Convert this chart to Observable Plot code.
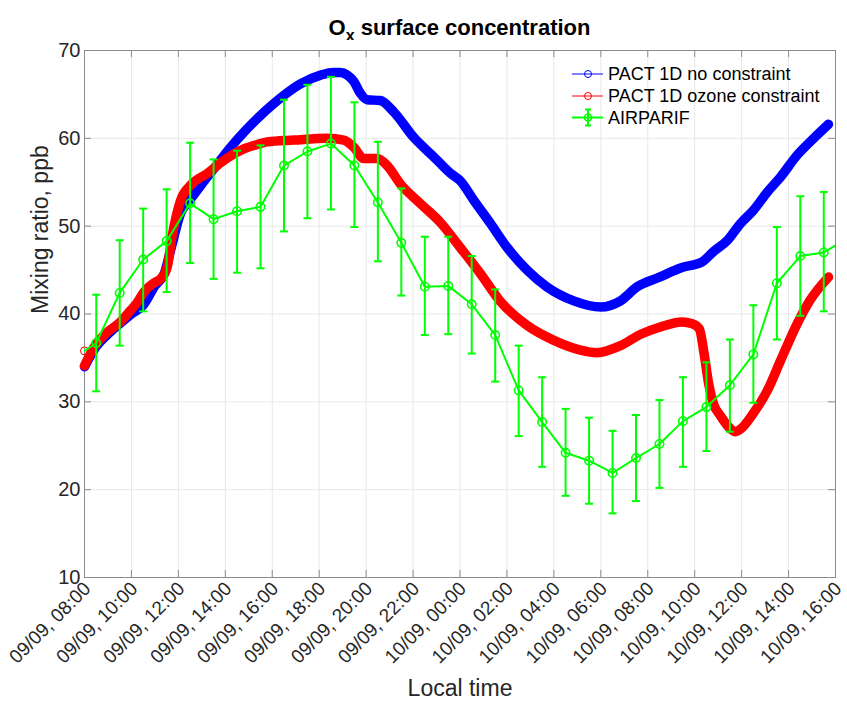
<!DOCTYPE html>
<html><head><meta charset="utf-8">
<script src="https://cdn.jsdelivr.net/npm/d3@7"></script>
<script src="https://cdn.jsdelivr.net/npm/@observablehq/plot@0.6"></script>
<style>
body{margin:0;background:#fff;font-family:"Liberation Sans",Arial,Helvetica,sans-serif;}
#wrap{position:relative;width:847px;height:701px;overflow:hidden;}
#title{position:absolute;left:84px;top:17px;width:751px;text-align:center;font-size:22px;line-height:22px;font-weight:bold;color:#000;}
#title sub{font-size:16px;vertical-align:-6px;line-height:0;}
#chart{position:absolute;left:0;top:40px;}
#legend{position:absolute;left:549px;top:60px;}
</style></head><body>
<div id="wrap">
  <div id="title">O<sub>x</sub> surface concentration</div>
  <div id="chart"></div>
  <svg id="legend" width="286" height="72" font-family="Liberation Sans, Arial, sans-serif" font-size="18"></svg>
</div>
<script>
// ---- data (hours after 09/09 08:00 local time) ----
const tickHours = [0,2,4,6,8,10,12,14,16,18,20,22,24,26,28,30,32];
const tickLabels = ["09/09, 08:00","09/09, 10:00","09/09, 12:00","09/09, 14:00","09/09, 16:00","09/09, 18:00","09/09, 20:00","09/09, 22:00","10/09, 00:00","10/09, 02:00","10/09, 04:00","10/09, 06:00","10/09, 08:00","10/09, 10:00","10/09, 12:00","10/09, 14:00","10/09, 16:00"];
const yTicks = [10,20,30,40,50,60,70];

const blueTime  = [0,0.5,1,1.5,2,2.5,3,3.4,3.7,4.1,4.5,5.0,5.5,6.2,6.9,7.5,8.0,8.5,9.2,10.06,10.6,10.9,11.2,11.47,11.76,12.04,12.6,13.18,14.03,14.88,15.6,16.0,16.6,17.3,18.0,18.86,19.7,20.85,22.0,22.84,23.55,24.5,25.46,26.3,26.8,27.4,27.95,28.5,29.1,29.66,30.37,31.07,31.7];
const blueValue = [34.0,36.3,37.7,38.9,40.0,41.0,43.2,44.6,47.6,51.5,53.0,54.8,56.5,58.9,61.0,62.6,63.8,64.9,66.2,67.2,67.5,67.5,67.2,66.5,65.1,64.4,64.3,63.0,60.1,57.9,56.0,55.2,52.9,50.3,47.6,45.0,43.1,41.5,40.8,41.5,43.1,44.2,45.3,45.9,47.1,48.4,50.3,51.8,53.9,55.6,58.1,60.0,61.6];

const redTime  = [0,0.4,0.96,1.53,1.96,2.25,2.53,3.0,3.24,3.52,3.73,4.09,4.5,5.23,5.94,6.79,7.5,7.78,8.92,10.34,11.05,11.47,11.9,12.47,12.9,13.46,14.3,15.17,16.0,16.87,17.7,18.86,20.0,21.13,21.84,22.84,23.7,24.5,25.46,25.9,26.2,26.4,26.6,26.8,27.1,27.5,27.74,28.0,28.5,29.1,29.66,30.37,30.9,31.7];
const redValue = [34.1,36.2,37.9,39.1,40.4,41.3,42.5,43.6,44.0,45.3,48.8,52.9,54.6,56.0,57.5,58.8,59.4,59.6,59.8,60.0,59.8,59.0,57.7,57.7,56.9,54.8,52.6,50.4,47.6,44.6,41.5,38.7,37.0,35.9,35.6,36.4,37.7,38.5,39.1,38.9,38.3,35.5,32.0,29.8,28.4,27.0,26.6,27.0,28.7,31.3,34.7,38.9,41.5,44.2];

const redStartTime = 0;
const redStartValue = 35.8;

const obsTime  = [-0.5,0.5,1.5,2.5,3.5,4.5,5.5,6.5,7.5,8.5,9.5,10.5,11.5,12.5,13.5,14.5,15.5,16.5,17.5,18.5,19.5,20.5,21.5,22.5,23.5,24.5,25.5,26.5,27.5,28.5,29.5,30.5,31.5,32.5];
const obsValue = [34.9,36.7,42.4,46.2,48.3,52.6,50.8,51.7,52.2,56.9,58.5,59.4,56.9,52.7,48.1,43.1,43.2,41.1,37.6,31.3,27.7,24.2,23.3,21.9,23.6,25.2,27.8,29.4,31.9,35.4,43.5,46.6,47.0,48.6];
const obsHigh  = [40.4,42.2,48.4,52.0,54.2,59.5,57.6,58.6,59.2,64.4,66.1,67.0,64.1,59.6,54.3,48.8,48.8,46.6,42.8,36.4,32.8,29.2,28.2,26.7,28.5,30.2,32.8,34.5,37.1,41.0,49.9,53.4,53.9,55.4];
const obsLow   = [29.4,31.2,36.4,40.3,42.5,45.8,44.0,44.7,45.2,49.4,50.9,51.9,49.9,46.0,42.1,37.6,37.7,35.5,32.3,26.1,22.6,19.3,18.4,17.3,18.7,20.2,22.6,24.4,26.6,29.9,37.1,39.8,40.3,41.8];

const seriesNames = ["PACT 1D no constraint","PACT 1D ozone constraint","AIRPARIF"];
const seriesColors = ["#0000ff","#ff0000","#00ff00"];

// ---- build tables ----
const blue = blueTime.map((t,i)=>({t, v: blueValue[i]}));
const red = redTime.map((t,i)=>({t, v: redValue[i]}));
const obs = obsTime.map((t,i)=>({t, v: obsValue[i], hi: obsHigh[i], lo: obsLow[i]}));

const capSymbol = {draw(ctx, size){ const w = Math.sqrt(size/Math.PI); ctx.moveTo(-w,0); ctx.lineTo(w,0); }};
const axisColor = "#8c8c8c";
const gridColor = "#e8e8e8";

const chart = Plot.plot({
  width: 847, height: 661,
  marginLeft: 84, marginRight: 12, marginTop: 10, marginBottom: 124,
  style: {fontFamily: "Liberation Sans, Arial, Helvetica, sans-serif", fontSize: "20px", color: "#262626", background: "white", overflow: "visible"},
  x: {domain: [0, 32]},
  y: {domain: [10, 70]},
  marks: [
    Plot.gridX(tickHours, {stroke: gridColor, strokeOpacity: 1}),
    Plot.gridY(yTicks, {stroke: gridColor, strokeOpacity: 1}),
    Plot.ruleY(yTicks, {x1: 0, x2: 0.3, stroke: axisColor}),
    Plot.ruleY(yTicks, {x1: 31.7, x2: 32, stroke: axisColor}),
    Plot.ruleX(tickHours, {y1: 10, y2: 10.8, stroke: axisColor}),
    Plot.ruleX(tickHours, {y1: 69.2, y2: 70, stroke: axisColor}),
    Plot.frame({stroke: axisColor}),
    Plot.line(blue, {x: "t", y: "v", stroke: seriesColors[0], strokeWidth: 9.5, strokeLinecap: "round", strokeLinejoin: "round", curve: "monotone-x"}),
    Plot.line(red, {x: "t", y: "v", stroke: seriesColors[1], strokeWidth: 9.5, strokeLinecap: "round", strokeLinejoin: "round", curve: "monotone-x"}),
    Plot.dot([{t: redStartTime, v: redStartValue}], {x: "t", y: "v", r: 4, stroke: seriesColors[1], strokeWidth: 1, fill: "none"}),
    Plot.ruleX(obs, {x: "t", y1: "lo", y2: "hi", stroke: seriesColors[2], strokeWidth: 2, clip: true}),
    Plot.dot(obs, {x: "t", y: "hi", symbol: capSymbol, r: 4, stroke: seriesColors[2], strokeWidth: 2, clip: true}),
    Plot.dot(obs, {x: "t", y: "lo", symbol: capSymbol, r: 4, stroke: seriesColors[2], strokeWidth: 2, clip: true}),
    Plot.line(obs, {x: "t", y: "v", stroke: seriesColors[2], strokeWidth: 2, clip: true}),
    Plot.dot(obs, {x: "t", y: "v", r: 4.2, stroke: seriesColors[2], strokeWidth: 1.6, fill: "none", clip: true}),
    Plot.axisY(yTicks, {tickSize: 0, tickPadding: 4, label: null, tickFormat: d => String(d)}),
    Plot.axisX(tickHours, {tickSize: 0, tickPadding: 0, dy: 8, dx: 3, fontSize: 19, tickRotate: -45, label: null, tickFormat: d => tickLabels[tickHours.indexOf(d)]}),
    Plot.text(["Mixing ratio, ppb"], {frameAnchor: "left", rotate: -90, dx: -44, fontSize: 23, fill: "#262626"}),
    Plot.text(["Local time"], {frameAnchor: "bottom", dy: 118, fontSize: 23, fill: "#262626"})
  ]
});
document.getElementById("chart").appendChild(chart);

// ---- legend ----
const lg = d3.select("#legend");
const rowY = [14, 36, 57.5];
seriesNames.forEach((name, i) => {
  const g = lg.append("g").attr("transform", `translate(0,${rowY[i]})`);
  g.append("line").attr("x1", 23).attr("x2", 54).attr("y1", 0).attr("y2", 0)
    .attr("stroke", seriesColors[i]).attr("stroke-width", i === 2 ? 2 : 1);
  g.append("circle").attr("cx", 39).attr("cy", 0).attr("r", 3.5)
    .attr("fill", "none").attr("stroke", seriesColors[i]).attr("stroke-width", i === 2 ? 1.6 : 1);
  if (i === 2) {
    g.append("line").attr("x1", 39).attr("x2", 39).attr("y1", -8).attr("y2", 8).attr("stroke", seriesColors[i]).attr("stroke-width", 2);
    g.append("line").attr("x1", 36).attr("x2", 42).attr("y1", -8).attr("y2", -8).attr("stroke", seriesColors[i]).attr("stroke-width", 2);
    g.append("line").attr("x1", 36).attr("x2", 42).attr("y1", 8).attr("y2", 8).attr("stroke", seriesColors[i]).attr("stroke-width", 2);
  }
  g.append("text").attr("x", 59).attr("y", 0).attr("dy", "0.35em").attr("fill", "#000").text(name);
});
</script>
</body></html>
